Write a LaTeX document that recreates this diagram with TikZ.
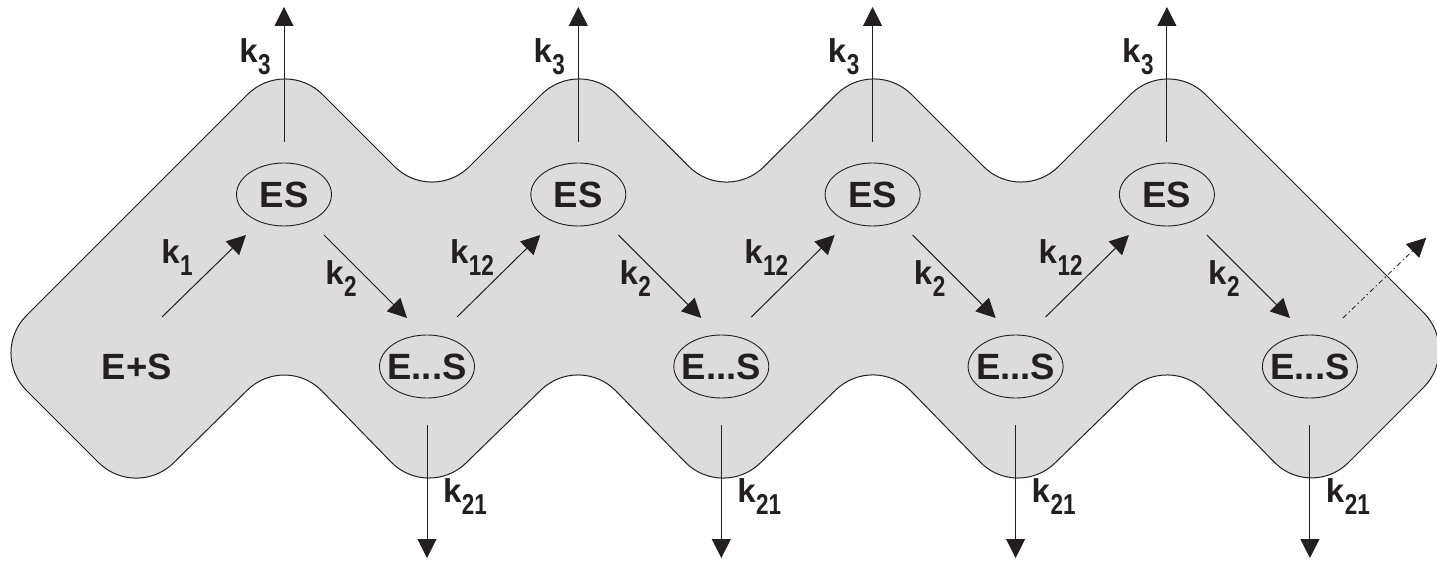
\documentclass[tikz,border=0pt]{standalone}
\usepackage{fontspec}
\setmainfont{Liberation Sans}
\usetikzlibrary{arrows.meta,shapes.geometric,calc}
\definecolor{ink}{RGB}{35,31,32}
\definecolor{bandfill}{RGB}{220,220,220}
\newcommand{\klab}[1]{k\kern0.5pt\raisebox{-12pt}{\scalebox{1}[1.28]{\fontsize{22.5}{23}\selectfont #1}}}
\begin{document}
\begin{tikzpicture}[x=1pt,y=-1pt,
  band/.style={draw=ink, line width=1pt, fill=bandfill, rounded corners=53pt},
  state/.style={ellipse, draw=ink, line width=0.9pt, minimum width=95pt, minimum height=63pt,
    inner sep=0pt, text=ink, font=\fontsize{36.5}{37}\selectfont\bfseries},
  plain/.style={inner sep=0pt, text=ink, font=\fontsize{36.5}{37}\selectfont\bfseries},
  klabel/.style={inner sep=0pt, text=ink, font=\fontsize{33}{34}\selectfont\bfseries},
  arr/.style={draw=ink, line width=1pt, -{Triangle[length=19pt,width=19pt]}},
  dotarr/.style={draw=ink, line width=0.8pt, dash pattern=on 5pt off 3pt on 1.5pt off 3pt,
    -{Triangle[length=19pt,width=19pt,sep]}}]
\useasboundingbox (0,0) rectangle (1437,561);
% band
\draw[band] (62.5,426.5) -- (-11,353) -- (285,57) -- (432,204) -- (579,57) -- (726.5,204)
  -- (874,57) -- (1021,204) -- (1168,57) -- (1461,350) -- (1311,500) -- (1168,353)
  -- (1017,500) -- (874,353) -- (722,500) -- (579,353) -- (428,500) -- (285,353)
  -- (136,500) -- cycle;
% nodes
\node[plain] (eps) at (137,366.5) {E+S};
\foreach \i in {1,...,4}{
  \node[state] (es\i) at ({284+294.3*(\i-1)},194.5) {\makebox[0pt]{ES}};
  \node[state] (ex\i) at ({427+294.3*(\i-1)},366.5) {\makebox[0pt]{E...S}};
  \coordinate (top\i) at ({284+294.3*(\i-1)},7);
  \coordinate (bot\i) at ({427+294.3*(\i-1)},558);
}
\coordinate (out) at (1427,237);
% connectors
\draw[arr] ($(eps)+(25,-49.5)$) -- ($(es1)+(-38,40.5)$);
\foreach \i in {1,...,4}{
  \draw[arr] ($(es\i)+(40,40.5)$) -- ($(ex\i)+(-20,-48.5)$);
  \draw[arr] ($(es\i.north)+(0,-21)$) -- (top\i);
  \draw[arr] ($(ex\i.south)+(0,27)$) -- (bot\i);
  \node[klabel] at ($(es\i)+(57,84.5)$) {\klab{2}};
  \node[klabel] at ($(es\i)+(-29,-137.5)$) {\klab{3}};
  \node[klabel] at ($(ex\i)+(38,130.5)$) {\klab{21}};
}
\foreach \i/\j in {1/2,2/3,3/4}{
  \draw[arr] ($(ex\i)+(30,-49.5)$) -- ($(es\j)+(-38,40.5)$);
  \node[klabel] at ($(ex\i)+(45,-108.5)$) {\klab{12}};
}
\node[klabel] at (177,258) {\klab{1}};
\draw[dotarr] ($(ex4)+(33,-48.5)$) -- (out);
\end{tikzpicture}
\end{document}
